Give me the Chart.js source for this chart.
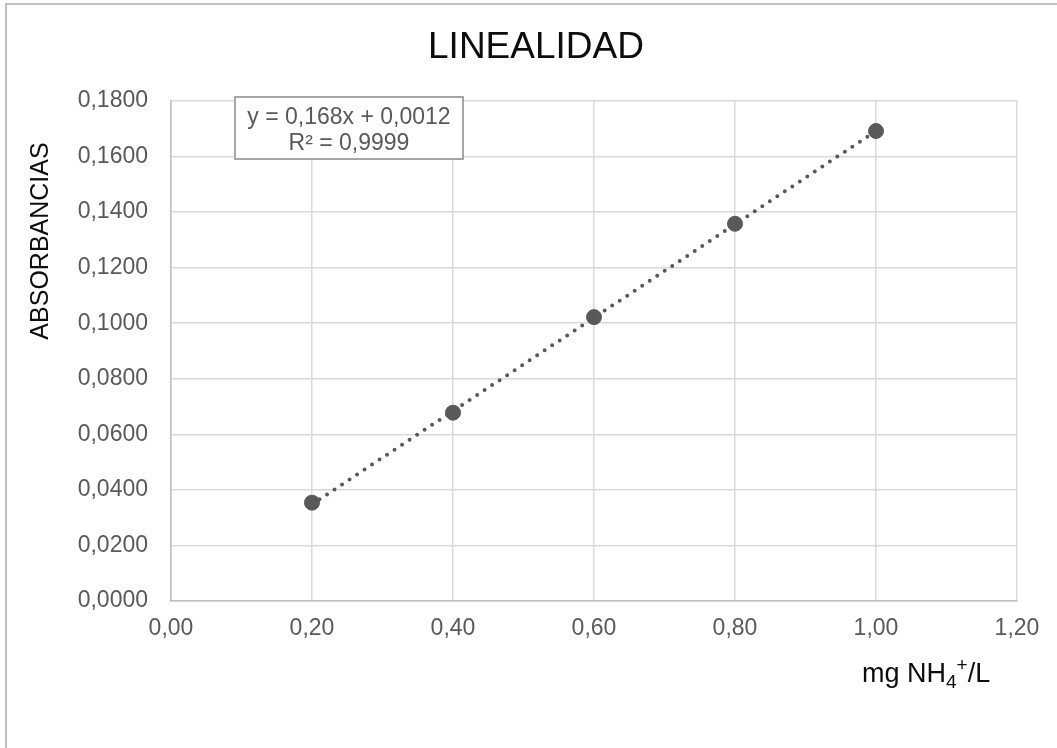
<!DOCTYPE html>
<html>
<head>
<meta charset="utf-8">
<script src="https://cdn.jsdelivr.net/npm/chart.js@4.4.1/dist/chart.umd.min.js"></script>
<style>
    html, body { margin: 0; padding: 0; background: #fff; overflow: hidden; }
    #marco {
        position: absolute; left: 5px; top: 3px; width: 1200px; height: 900px;
        border: 2px solid #bfbfbf; box-sizing: border-box;
    }
    #wrap { position: absolute; left: 0; top: 0; width: 1057px; height: 748px; }
</style>
</head>
<body>
<div id="marco"></div>
<div id="wrap"><canvas id="graficoLinealidad"></canvas></div>
<script>
// datos
const concentraciones = [0.20, 0.40, 0.60, 0.80, 1.00];
const absorbancias = [0.0354, 0.0678, 0.1022, 0.1358, 0.1692];

// linea de tendencia (extremos)
const tendenciaX = [0.20, 1.00];
const tendenciaY = [0.0348, 0.1692];

const ecuacion = 'y = 0,168x + 0,0012';
const r2 = 'R² = 0,9999';

const FUENTE = "'Liberation Sans', Arial, sans-serif";

const textosExtra = {
    id: 'textosExtra',
    afterDraw(chart) {
        const ctx = chart.ctx;
        const area = chart.chartArea;
        ctx.save();

        // titulo
        ctx.fillStyle = '#0d0d0d';
        ctx.font = `37px ${FUENTE}`;
        ctx.textAlign = 'center';
        ctx.textBaseline = 'middle';
        ctx.fillText('LINEALIDAD', 536, 48);

        // titulo eje Y
        ctx.save();
        ctx.translate(41, 241);
        ctx.rotate(-Math.PI / 2);
        ctx.font = `25px ${FUENTE}`;
        ctx.fillText('ABSORBANCIAS', 0, 0);
        ctx.restore();

        // titulo eje X con subindice y superindice
        ctx.textAlign = 'left';
        ctx.textBaseline = 'alphabetic';
        let x = 862;
        const base = 682;
        const partes = [
            { t: 'mg NH', size: 27, dy: 0 },
            { t: '4', size: 19, dy: 6 },
            { t: '+', size: 19, dy: -11 },
            { t: '/L', size: 27, dy: 0 }
        ];
        partes.forEach(p => {
            ctx.font = `${p.size}px ${FUENTE}`;
            ctx.fillText(p.t, x, base + p.dy);
            x += ctx.measureText(p.t).width;
        });

        // cuadro de la ecuacion
        const bx = area.left + 64, by = area.top - 4, bw = 228, bh = 62;
        ctx.fillStyle = '#fff';
        ctx.fillRect(bx, by, bw, bh);
        ctx.strokeStyle = '#a6a6a6';
        ctx.lineWidth = 2;
        ctx.strokeRect(bx, by, bw, bh);
        ctx.fillStyle = '#595959';
        ctx.font = `23px ${FUENTE}`;
        ctx.textAlign = 'center';
        ctx.textBaseline = 'middle';
        ctx.fillText(ecuacion, bx + bw / 2, by + 21);
        ctx.fillText(r2, bx + bw / 2, by + 47);

        ctx.restore();
    }
};

const ctx = document.getElementById('graficoLinealidad').getContext('2d');
new Chart(ctx, {
    type: 'scatter',
    data: {
        datasets: [
            {
                label: 'Absorbancia',
                data: concentraciones.map((c, i) => ({ x: c, y: absorbancias[i] })),
                backgroundColor: '#595959',
                borderColor: '#595959',
                pointRadius: 7.5,
                pointHoverRadius: 7.5,
                order: 1
            },
            {
                label: 'Tendencia',
                type: 'line',
                data: tendenciaX.map((c, i) => ({ x: c, y: tendenciaY[i] })),
                borderColor: '#595959',
                borderWidth: 4,
                borderDash: [0, 9],
                borderCapStyle: 'round',
                pointRadius: 0,
                fill: false,
                order: 2
            }
        ]
    },
    options: {
        responsive: true,
        maintainAspectRatio: false,
        animation: false,
        layout: { padding: { left: 0, top: 101, right: 40, bottom: 0 } },
        plugins: {
            legend: { display: false },
            title: { display: false },
            tooltip: { enabled: false }
        },
        scales: {
            x: {
                type: 'linear',
                min: 0,
                max: 1.2,
                afterFit: s => { s.height = 147; },
                ticks: {
                    stepSize: 0.2,
                    padding: 14,
                    color: '#595959',
                    font: { family: FUENTE, size: 23 },
                    callback: v => v.toFixed(2).replace('.', ',')
                },
                grid: { color: '#d9d9d9', lineWidth: 1.5, drawTicks: false },
                border: { color: '#bfbfbf', width: 1.5 }
            },
            y: {
                min: 0,
                max: 0.18,
                afterFit: s => { s.width = 171; },
                ticks: {
                    stepSize: 0.02,
                    padding: 23,
                    color: '#595959',
                    font: { family: FUENTE, size: 23 },
                    callback: v => v.toFixed(4).replace('.', ',')
                },
                grid: { color: '#d9d9d9', lineWidth: 1.5, drawTicks: false },
                border: { color: '#bfbfbf', width: 1.5 }
            }
        }
    },
    plugins: [textosExtra]
});
</script>
</body>
</html>
